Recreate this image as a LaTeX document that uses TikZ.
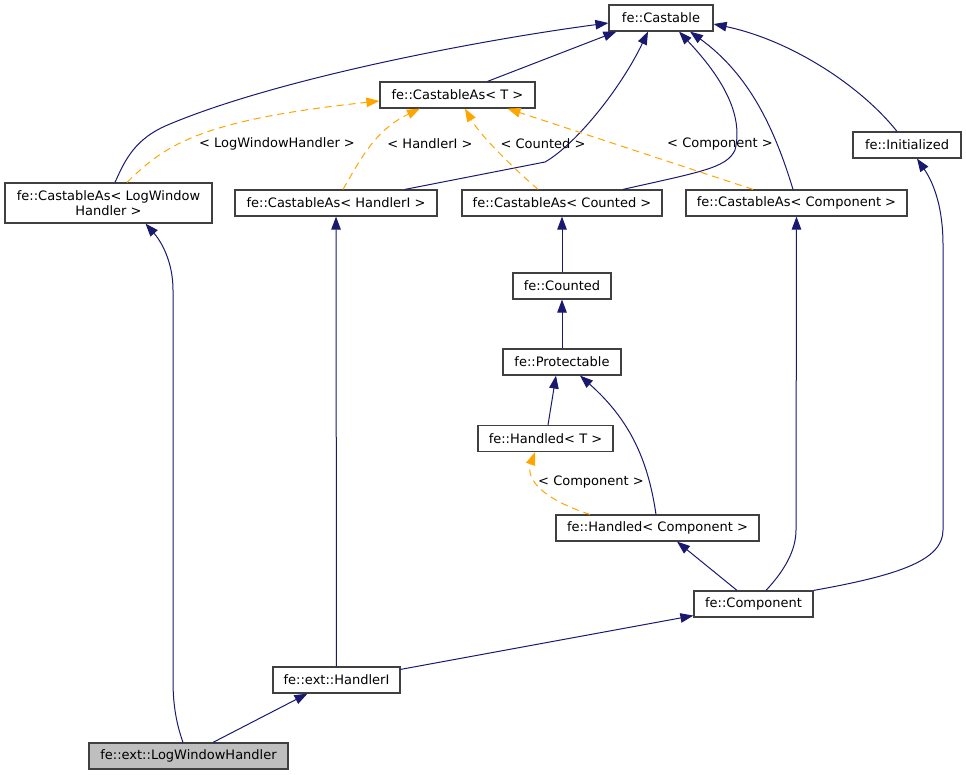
\documentclass[tikz,border=0pt]{standalone}
\usepackage{fontspec}
\setmainfont{DejaVu Sans}
\usetikzlibrary{arrows.meta}
\definecolor{edgeblue}{HTML}{191970}
\definecolor{tmplorange}{HTML}{FFA500}
\definecolor{boxline}{HTML}{404040}

\begin{document}
\begin{tikzpicture}[x=1pt,y=-1pt,
    cls/.style={draw=boxline,line width=1.2pt,fill=white,minimum height=26,inner sep=2pt,font=\fontsize{13}{15}\selectfont},
    inh/.style={draw=edgeblue,line width=1pt,-{Triangle[length=13,width=9.5]},fill=none},
    tmpl/.style={draw=tmplorange,line width=1pt,dash pattern=on 7pt off 5pt,-{Triangle[length=13,width=9.5,fill=tmplorange]},fill=none},
    lbl/.style={font=\fontsize{13}{15}\selectfont,inner sep=1pt}]
                    \useasboundingbox (0,0) rectangle (966,775);
                    \node[cls,minimum width=104](castable) at (661,18){fe::Castable};
                    \node[cls,minimum width=155](castT) at (457.5,95){fe::CastableAs< T >};
                    \node[cls,minimum width=207,minimum height=40,align=center,font=\fontsize{13}{14.5}\selectfont](lwh) at (108.5,203){fe::CastableAs< LogWindow\\Handler >};
                    \node[cls,minimum width=202](castH) at (336,203){fe::CastableAs< HandlerI >};
                    \node[cls,minimum width=200](castCounted) at (562,203){fe::CastableAs< Counted >};
                    \node[cls,minimum width=221](castComp) at (796.5,203){fe::CastableAs< Component >};
                    \node[cls,minimum width=108](initialized) at (907,145){fe::Initialized};
                    \node[cls,minimum width=98](counted) at (562,286){fe::Counted};
                    \node[cls,minimum width=118](protectable) at (562,362){fe::Protectable};
                    \node[cls,minimum width=135](handledT) at (545.5,438.5){fe::Handled< T >};
                    \node[cls,minimum width=203](handledComp) at (657.5,528){fe::Handled< Component >};
                    \node[cls,minimum width=119](component) at (753.5,604){fe::Component};
                    \node[cls,minimum width=127](extHandler) at (336.5,680){fe::ext::HandlerI};
                    \node[cls,minimum width=199,fill={rgb,255:red,191;green,191;blue,191}](lwhExt) at (188.5,756){fe::ext::LogWindowHandler};
                    % edges up to fe::Castable
                    \draw[inh]([xshift=6.5]lwh.north) .. controls (125,160) and (135,138) .. (170,124) .. controls (280,78) and (480,40) .. ([yshift=-5]castable.west);
                    \draw[inh]([xshift=30]castT.north) -- ([xshift=8]castable.south west);
                    \draw[inh]([xshift=69]castH.north) -- (545,162) .. controls (575,145) and (620,90) .. ([xshift=-13]castable.south);
                    \draw[inh]([xshift=61]castCounted.north) .. controls (700,172) and (727,168) .. (735,150) .. controls (745,110) and (715,70) .. ([xshift=18]castable.south);
                    \draw[inh]([xshift=-3.5]castComp.north) .. controls (775,130) and (750,75) .. ([xshift=29]castable.south);
                    \draw[inh]([xshift=-10]initialized.north) .. controls (860,85) and (790,40) .. ([yshift=-6]castable.east);
                    % template instances
                    \draw[tmpl]([xshift=18.5]lwh.north) .. controls (165,145) and (200,120) .. ([yshift=-6]castT.west);
                    \node[lbl](lblLwh) at (277,144){< LogWindowHandler >};
                    \draw[tmpl]([xshift=7]castH.north) .. controls (360,160) and (375,130) .. ([xshift=-37.5]castT.south);
                    \node[lbl](lblHandler) at (430,144){< HandlerI >};
                    \draw[tmpl]([xshift=-24]castCounted.north) .. controls (510,165) and (480,135) .. ([xshift=7.5]castT.south);
                    \node[lbl](lblCounted) at (543,144){< Counted >};
                    \draw[tmpl]([xshift=-43.5]castComp.north) -- ([xshift=50]castT.south);
                    \node[lbl](lblComp) at (720,144){< Component >};
                    % middle column
                    \draw[inh](counted) -- (castCounted);
                    \draw[inh](protectable) -- (counted);
                    \draw[inh]([xshift=2.5]handledT.north) -- ([xshift=-6]protectable.south);
                    \draw[inh]([xshift=-1.5]handledComp.north) .. controls (648,460) and (630,420) .. ([xshift=18]protectable.south);
                    \draw[tmpl]([xshift=-67.5]handledComp.north) .. controls (545,500) and (525,480) .. ([xshift=-10.5]handledT.south);
                    \node[lbl](lblHandled) at (591,482){< Component >};
                    \draw[inh]([xshift=-16.5]component.north) -- ([xshift=19.5]handledComp.south);
                    \draw[inh]([xshift=12.5]component.north) .. controls (785,570) and (796,550) .. (796,530) -- (castComp.south);
                    \draw[inh](component.north east) .. controls (900,575) and (943,560) .. (943,530) -- (943,245) .. controls (943,210) and (935,185) .. ([xshift=10]initialized.south);
                    % bottom
                    \draw[inh]([yshift=-3]extHandler.north east) -- ([yshift=2]component.south west);
                    \draw[inh](extHandler) -- (castH);
                    \draw[inh]([xshift=-5.5]lwhExt.north) .. controls (175,720) and (173,700) .. (173,680) -- (173,290) .. controls (173,260) and (160,240) .. ([xshift=37]lwh.south);
                    \draw[inh]([xshift=24.5]lwhExt.north) -- ([xshift=-29]extHandler.south);
                \end{tikzpicture}
\end{document}
